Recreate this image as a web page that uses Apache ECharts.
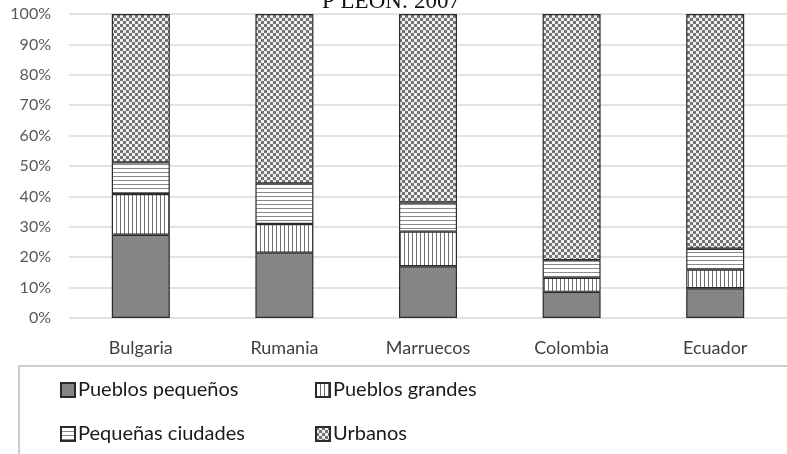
<!DOCTYPE html>
<html><head><meta charset="utf-8">
<script src="https://cdn.jsdelivr.net/npm/echarts@6/dist/echarts.min.js"></script>
<style>html,body{margin:0;padding:0;background:#fff}#c{width:787px;height:454px}</style>
</head><body><div id="c"></div>
<script>
const categories = ['Bulgaria', 'Rumania', 'Marruecos', 'Colombia', 'Ecuador'];
const pueblosPequenos = [27.4, 21.5, 17.0, 8.6, 9.8];
const pueblosGrandes = [13.4, 9.4, 11.4, 4.6, 6.1];
const pequenasCiudades = [10.4, 13.4, 9.6, 5.8, 6.9];
const urbanos = [48.8, 55.7, 62.0, 81.0, 77.2];
const seriesNames = ['Pueblos pequeños', 'Pueblos grandes', 'Pequeñas ciudades', 'Urbanos'];
const titleText = 'P LEÓN: 2007';

function pattern(kind) {
  const c = document.createElement('canvas');
  const ctx = c.getContext('2d');
  if (kind === 'v') {
    c.width = 4; c.height = 4;
    ctx.fillStyle = '#fff'; ctx.fillRect(0, 0, 4, 4);
    ctx.fillStyle = '#707070'; ctx.fillRect(0, 0, 1, 4);
  } else if (kind === 'h') {
    c.width = 4; c.height = 4;
    ctx.fillStyle = '#fff'; ctx.fillRect(0, 0, 4, 4);
    ctx.fillStyle = '#8a8a8a'; ctx.fillRect(0, 0, 4, 1);
  } else {
    c.width = 6; c.height = 6;
    ctx.fillStyle = '#f0f0f0'; ctx.fillRect(0, 0, 6, 6);
    ctx.fillStyle = '#737373';
    ctx.fillRect(0, 0, 3, 3); ctx.fillRect(3, 3, 3, 3);
  }
  return { image: c, repeat: 'repeat' };
}
const fills = ['#858585', pattern('v'), pattern('h'), pattern('c')];
const dataSets = [pueblosPequenos, pueblosGrandes, pequenasCiudades, urbanos];

const chart = echarts.init(document.getElementById('c'), null, { renderer: 'canvas' });
const legendPos = [[55, 375], [310, 375], [55, 419], [310, 419]];
chart.setOption({
  animation: false,
  graphic: [
    { type: 'rect', shape: { x: 19, y: 366, width: 800, height: 120 }, style: { fill: 'none', stroke: '#bfbfbf', lineWidth: 1.5 }, z: 0 },
    { type: 'text', left: 322, top: -10, style: { text: titleText, font: '23px "Liberation Serif"', fill: '#111' } }
  ],
  grid: { left: 69, top: 14, width: 721, height: 304, containLabel: false },
  legend: seriesNames.map((n, i) => ({
    data: [n], left: legendPos[i][0], top: legendPos[i][1],
    itemWidth: 14, itemHeight: 14, itemGap: 4, icon: 'rect',
    textStyle: { fontFamily: 'Lato', fontSize: 20, color: '#1a1a1a', padding: [0, 0, 0, -2] }
  })),
  xAxis: {
    type: 'category', data: categories,
    axisLine: { show: false }, axisTick: { show: false },
    axisLabel: { fontFamily: 'Lato', fontSize: 18, color: '#404040', margin: 21 }
  },
  yAxis: {
    type: 'value', min: 0, max: 100, interval: 10,
    axisLabel: { formatter: '{value}%', fontFamily: 'Lato', fontSize: 16, color: '#595959', margin: 18 },
    splitLine: { lineStyle: { color: '#d9d9d9', width: 1.5 } },
    axisLine: { show: false }, axisTick: { show: false }
  },
  series: seriesNames.map((n, i) => ({
    name: n, type: 'bar', stack: 'total', barWidth: 58,
    data: dataSets[i],
    itemStyle: { color: fills[i], borderColor: '#2b2b2b', borderWidth: 1.2 }
  }))
});
</script></body></html>
